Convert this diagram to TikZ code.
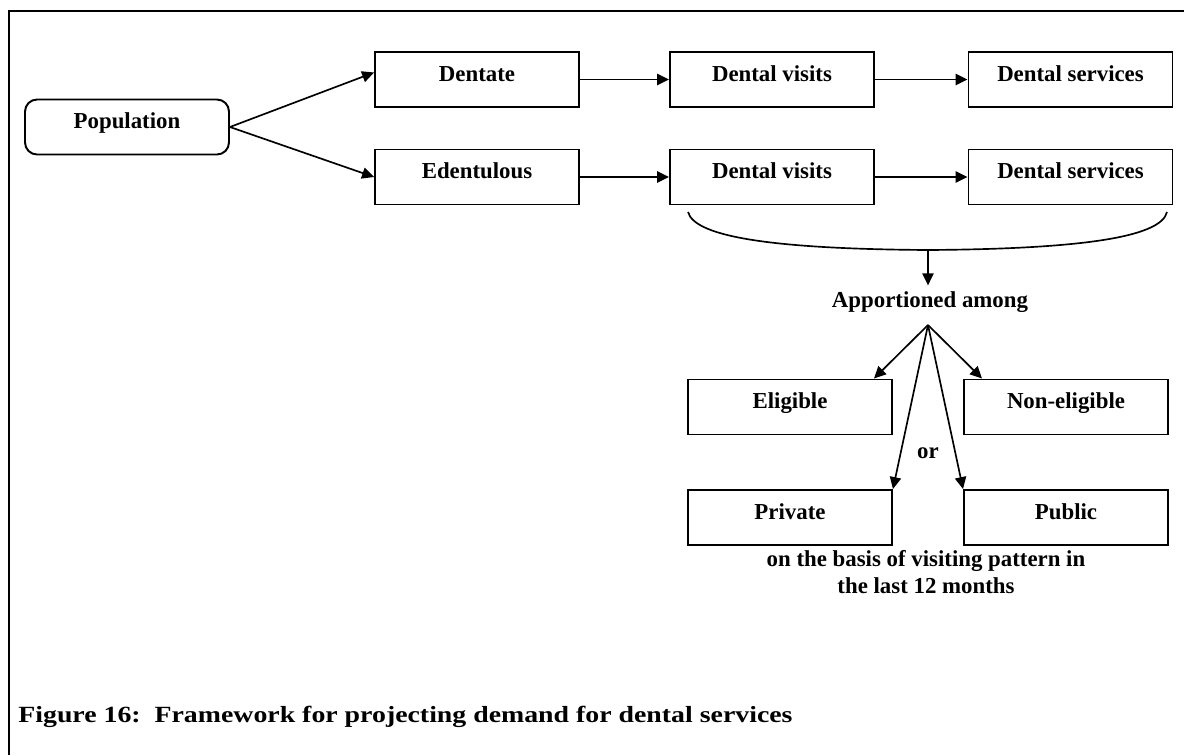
\documentclass[tikz,border=0pt]{standalone}
\usepackage{fontspec}
\setmainfont{Liberation Serif}
\newfontfamily\capfont[FakeStretch=1.2]{Liberation Serif}
\usetikzlibrary{arrows.meta}

\tikzset{
  stage/.style={draw,line width=1.1pt,minimum width=4.08cm,minimum height=1.1cm,inner sep=0pt,
    text height=9pt,text depth=7pt,font=\fontsize{13}{15}\selectfont\bfseries},
  rstage/.style={stage,rounded corners=0.24cm},
  lbl/.style={font=\fontsize{13}{15}\selectfont\bfseries},
  link/.style={-{Triangle[length=6.8pt,width=6.4pt]},line width=0.95pt}
}

\begin{document}
\begin{tikzpicture}[x=0.02cm,y=-0.02cm]
\useasboundingbox (0,0) rectangle (1184,755);
\draw[line width=1.3pt] (9,755)--(9,11)--(1184,11);

\node[rstage] (pop) at (127,127) {Population};
\node[stage] (den) at (477,79.5) {Dentate};
\node[stage] (eden) at (477,177) {Edentulous};
\node[stage] (vis1) at (772,79.5) {Dental visits};
\node[stage] (vis2) at (772,177) {Dental visits};
\node[stage] (serv1) at (1070.5,79.5) {Dental services};
\node[stage] (serv2) at (1070.5,177) {Dental services};

\draw[link] (pop.east) -- ([yshift=4pt]den.west);
\draw[link] (pop.east) -- (eden.west);
\draw[link] (den) -- (vis1);
\draw[link] (vis1) -- (serv1);
\draw[link] (eden) -- (vis2);
\draw[link] (vis2) -- (serv2);

% brace under the edentulous row
\coordinate (bl) at (688,212);
\coordinate (bm) at (928,250);
\coordinate (br) at (1167,212);
\draw[line width=0.95pt] (bl) .. controls (695,238) and (780,249) .. (bm) .. controls (1076,249) and (1161,238) .. (br);

\node[lbl] (appt) at (930,302) {Apportioned among};
\draw[link] (bm) -- (bm |- appt.north);

\node[stage] (elig) at (790,407) {Eligible};
\node[stage] (nonel) at (1066,407) {Non-eligible};
\node[stage] (priv) at (790,517.5) {Private};
\node[stage] (pub) at (1066,517.5) {Public};
\node[lbl] (or) at (928,453) {or};

\coordinate (apex) at (928,325);
\draw[link] (apex) -- ([xshift=-0.38cm]elig.north east);
\draw[link] (apex) -- ([xshift=0.38cm]nonel.north west);
\draw[link] (apex) -- (priv.north east);
\draw[link] (apex) -- (pub.north west);

\node[lbl,align=center] (basis) at (926,572) {on the basis of visiting pattern in\\the last 12 months};

\node[anchor=base west,inner sep=0pt,font=\capfont\fontsize{13.2}{15}\selectfont\bfseries] (cap) at (18,722)
  {Figure 16:\ \ Framework for projecting demand for dental services};
\end{tikzpicture}
\end{document}
